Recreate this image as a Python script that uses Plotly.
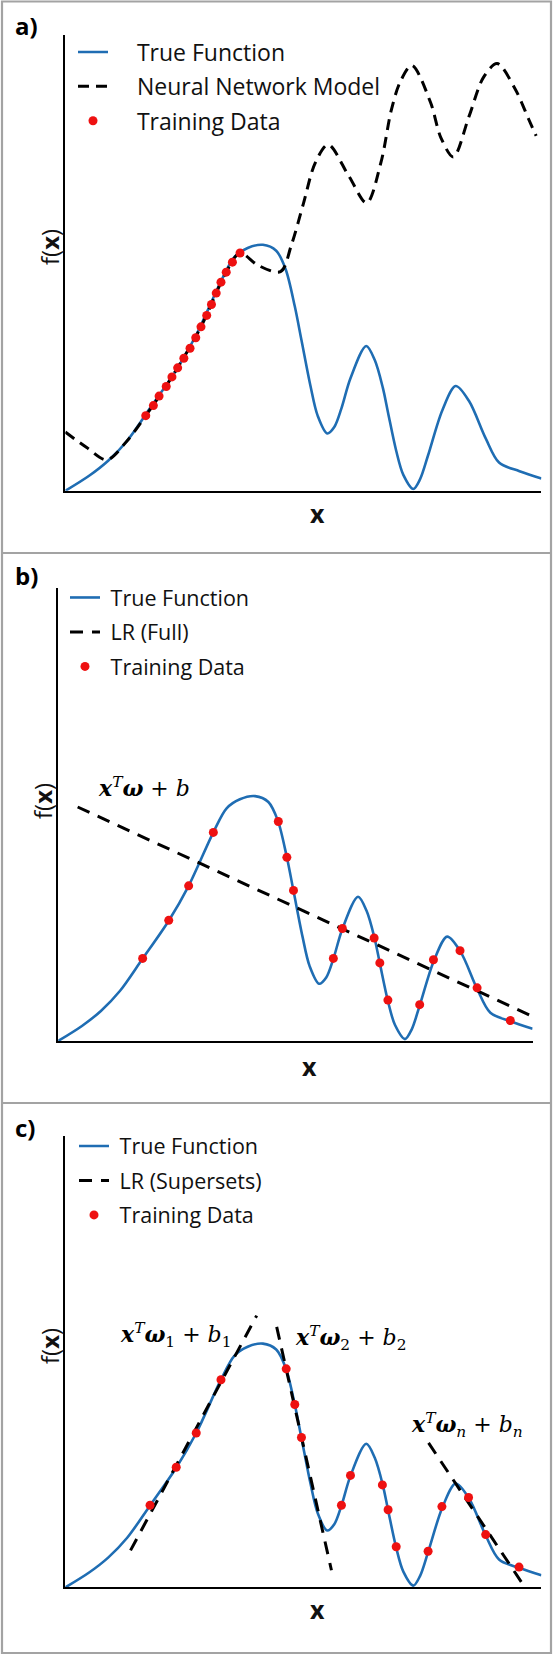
import plotly.graph_objects as go

# ---------------- data (x and f(x) in axis units 0..10) ----------------
TRUE_X = [0.0, 0.5, 0.9, 1.3, 1.77, 2.33, 2.75, 3.27, 3.55, 3.83, 4.15, 4.43, 4.63, 4.82, 4.96,
          5.15, 5.3, 5.5, 5.65, 5.8, 5.99, 6.32, 6.5, 6.67, 6.78, 6.95, 7.1, 7.31, 7.45, 7.62,
          7.92, 8.2, 8.48, 8.83, 9.11, 9.54, 10.0]
TRUE_Y = [0.0, 0.33, 0.66, 1.1, 1.8, 2.65, 3.42, 4.6, 5.13, 5.33, 5.4, 5.27, 4.86, 4.05, 3.31,
          2.3, 1.65, 1.26, 1.4, 1.81, 2.47, 3.18, 2.87, 2.26, 1.71, 0.88, 0.35, 0.04, 0.25, 0.78,
          1.77, 2.3, 1.97, 1.15, 0.62, 0.43, 0.27]

NN_X = [0.0, 0.45, 0.87, 1.3, 1.69, 2.24, 2.85, 3.38, 3.67, 4.05, 4.52, 4.75, 5.0, 5.25, 5.52,
        5.96, 6.33, 6.63, 6.85, 7.04, 7.28, 7.67, 7.89, 8.15, 8.48, 8.78, 9.07, 9.44, 9.74, 9.89]
NN_Y = [1.29, 0.95, 0.68, 1.1, 1.65, 2.5, 3.6, 4.8, 5.22, 4.95, 4.81, 5.4, 6.3, 7.2, 7.6,
        6.9, 6.32, 7.21, 8.37, 8.99, 9.34, 8.53, 7.75, 7.33, 8.22, 9.07, 9.38, 8.84, 8.14, 7.79]

TRAIN_A_X = [1.69, 1.85, 1.97, 2.12, 2.24, 2.36, 2.49, 2.62, 2.74, 2.85, 2.97, 3.07, 3.17,
             3.27, 3.38, 3.51, 3.67]
TRAIN_A_Y = [1.65, 1.87, 2.08, 2.29, 2.5, 2.7, 2.91, 3.13, 3.36, 3.6, 3.85, 4.09, 4.34,
             4.58, 4.8, 5.02, 5.22]

TRAIN_BC_X = [1.78, 2.33, 2.75, 3.27, 4.64, 4.82, 4.96, 5.8, 5.99, 6.66, 6.78, 6.95, 7.62,
              7.91, 8.47, 8.83, 9.53]
TRAIN_BC_Y = [1.82, 2.66, 3.42, 4.6, 4.84, 4.05, 3.32, 1.82, 2.48, 2.27, 1.72, 0.9, 0.8,
              1.79, 1.99, 1.17, 0.45]

LR_FULL_X = [0.41, 10.0]
LR_FULL_Y = [5.16, 0.54]

LR_SUPER_X = [1.37, 4.02, None, 4.44, 5.59, None, 7.63, 9.63]
LR_SUPER_Y = [0.82, 6.02, None, 5.77, 0.38, None, 3.2, 0.04]

PANEL_LABELS = ["a)", "b)", "c)"]
NAMES_A = ["True Function", "Neural Network Model", "Training Data"]
NAMES_B = ["True Function", "LR (Full)", "Training Data"]
NAMES_C = ["True Function", "LR (Supersets)", "Training Data"]

# ---------------- styling ----------------
BLUE = "#1f6db3"
RED = "#ee1111"
FONT = "Open Sans"
MATH_FONT = "DejaVu Serif"
W, H = 553, 1656

def px_x(p):
    return p / W

def px_y(p):
    return 1 - p / H

fig = go.Figure()

panels = [
    dict(xa="x", ya="y", leg="legend", names=NAMES_A, gap="\u00a0" * 4,
         model_x=NN_X, model_y=NN_Y, model_shape="spline", dash="11px,7px",
         tx=TRAIN_A_X, ty=TRAIN_A_Y),
    dict(xa="x2", ya="y2", leg="legend2", names=NAMES_B, gap="\u00a0",
         model_x=LR_FULL_X, model_y=LR_FULL_Y, model_shape="linear", dash="13px,9px",
         tx=TRAIN_BC_X, ty=TRAIN_BC_Y),
    dict(xa="x3", ya="y3", leg="legend3", names=NAMES_C, gap="\u00a0",
         model_x=LR_SUPER_X, model_y=LR_SUPER_Y, model_shape="linear", dash="13px,9px",
         tx=TRAIN_BC_X, ty=TRAIN_BC_Y),
]

for i, p in enumerate(panels):
    fig.add_trace(go.Scatter(
        x=TRUE_X, y=TRUE_Y, mode="lines", name=p["gap"] + p["names"][0],
        line=dict(color=BLUE, width=2.6, shape="spline", smoothing=0.9),
        xaxis=p["xa"], yaxis=p["ya"], legend=p["leg"], legendgroup=f"g{i}a"))
    fig.add_trace(go.Scatter(
        x=p["model_x"], y=p["model_y"], mode="lines", name=p["gap"] + p["names"][1],
        line=dict(color="black", width=3, dash=p["dash"], shape=p["model_shape"], smoothing=0.9),
        connectgaps=False,
        xaxis=p["xa"], yaxis=p["ya"], legend=p["leg"], legendgroup=f"g{i}b"))
    fig.add_trace(go.Scatter(
        x=p["tx"], y=p["ty"], mode="markers", name=p["gap"] + p["names"][2],
        marker=dict(color=RED, size=9),
        xaxis=p["xa"], yaxis=p["ya"], legend=p["leg"], legendgroup=f"g{i}c"))

axis_common = dict(range=[0, 10], showgrid=False, zeroline=False, showticklabels=False,
                   ticks="", showline=True, linecolor="black", linewidth=2, fixedrange=True)

dom = [
    dict(x=[px_x(65.3), px_x(541.4)], y=[px_y(490.8), px_y(35.3)]),
    dict(x=[px_x(58.2), px_x(532.6)], y=[px_y(1040.9), px_y(587.6)]),
    dict(x=[px_x(65.3), px_x(541.4)], y=[px_y(1587.4), px_y(1135.9)]),
]

layout = dict(
    width=W, height=H, margin=dict(l=0, r=0, t=0, b=0),
    paper_bgcolor="white", plot_bgcolor="rgba(0,0,0,0)",
    font=dict(family=FONT, color="#111111"),
)
for i, d in enumerate(dom):
    sx = "" if i == 0 else str(i + 1)
    layout["xaxis" + sx] = dict(axis_common, domain=d["x"], anchor="y" + sx)
    layout["yaxis" + sx] = dict(axis_common, domain=d["y"], anchor="x" + sx)

legend_common = dict(bgcolor="rgba(0,0,0,0)", borderwidth=0, xanchor="left", yanchor="top",
                     traceorder="grouped", itemwidth=30)
layout["legend"] = dict(legend_common, x=px_x(73), y=px_y(30.5), tracegroupgap=1.5,
                        font=dict(size=23, family=FONT))
layout["legend2"] = dict(legend_common, x=px_x(65), y=px_y(577), tracegroupgap=3.5,
                         font=dict(size=21.5, family=FONT))
layout["legend3"] = dict(legend_common, x=px_x(74), y=px_y(1125.5), tracegroupgap=3.5,
                         font=dict(size=21.5, family=FONT))

fig.update_layout(**layout)

# frame and separators
fig.add_shape(type="rect", xref="paper", yref="paper", x0=px_x(2), x1=px_x(551),
              y0=px_y(1653), y1=px_y(1.5), line=dict(color="#a3a3a3", width=2.2))
for sy in [553, 1103]:
    fig.add_shape(type="line", xref="paper", yref="paper", x0=px_x(2), x1=px_x(551),
                  y0=px_y(sy), y1=px_y(sy), line=dict(color="#a3a3a3", width=2.2))

# panel labels
for lab, yy in zip(PANEL_LABELS, [26, 575, 1127]):
    fig.add_annotation(text=f"<b>{lab}</b>", xref="paper", yref="paper", x=px_x(13), y=px_y(yy),
                       xanchor="left", yanchor="middle", showarrow=False,
                       font=dict(size=24, family=FONT, color="black"))

# axis titles
for (xx, yy) in [(49, 247), (42, 801), (49, 1346)]:
    fig.add_annotation(text="f(<b>x</b>)", xref="paper", yref="paper", x=px_x(xx), y=px_y(yy),
                       textangle=-90, showarrow=False, xanchor="center", yanchor="middle",
                       font=dict(size=24, family=FONT, color="#111111"))
for (xx, yy) in [(317, 513), (309, 1065.6), (317, 1608.5)]:
    fig.add_annotation(text="<b>x</b>", xref="paper", yref="paper", x=px_x(xx), y=px_y(yy),
                       showarrow=False, xanchor="center", yanchor="middle",
                       font=dict(size=25, family=FONT, color="#111111"))

# equation labels
math_font = dict(size=22, family=MATH_FONT, color="black")
fig.add_annotation(text="<b><i>x</i></b><sup><i>T</i></sup><b><i>ω</i></b> + <i>b</i>",
                   xref="x2", yref="y2", x=1.8, y=5.6, showarrow=False, font=math_font)
fig.add_annotation(text="<b><i>x</i></b><sup><i>T</i></sup><b><i>ω</i></b><sub>1</sub> + <i>b</i><sub>1</sub>",
                   xref="x3", yref="y3", x=2.31, y=5.6, showarrow=False, font=math_font)
fig.add_annotation(text="<b><i>x</i></b><sup><i>T</i></sup><b><i>ω</i></b><sub>2</sub> + <i>b</i><sub>2</sub>",
                   xref="x3", yref="y3", x=5.98, y=5.52, showarrow=False, font=math_font)
fig.add_annotation(text="<b><i>x</i></b><sup><i>T</i></sup><b><i>ω</i></b><sub><i>n</i></sub> + <i>b</i><sub><i>n</i></sub>",
                   xref="x3", yref="y3", x=8.43, y=3.6, showarrow=False, font=math_font)

fig.write_html("out.html")
